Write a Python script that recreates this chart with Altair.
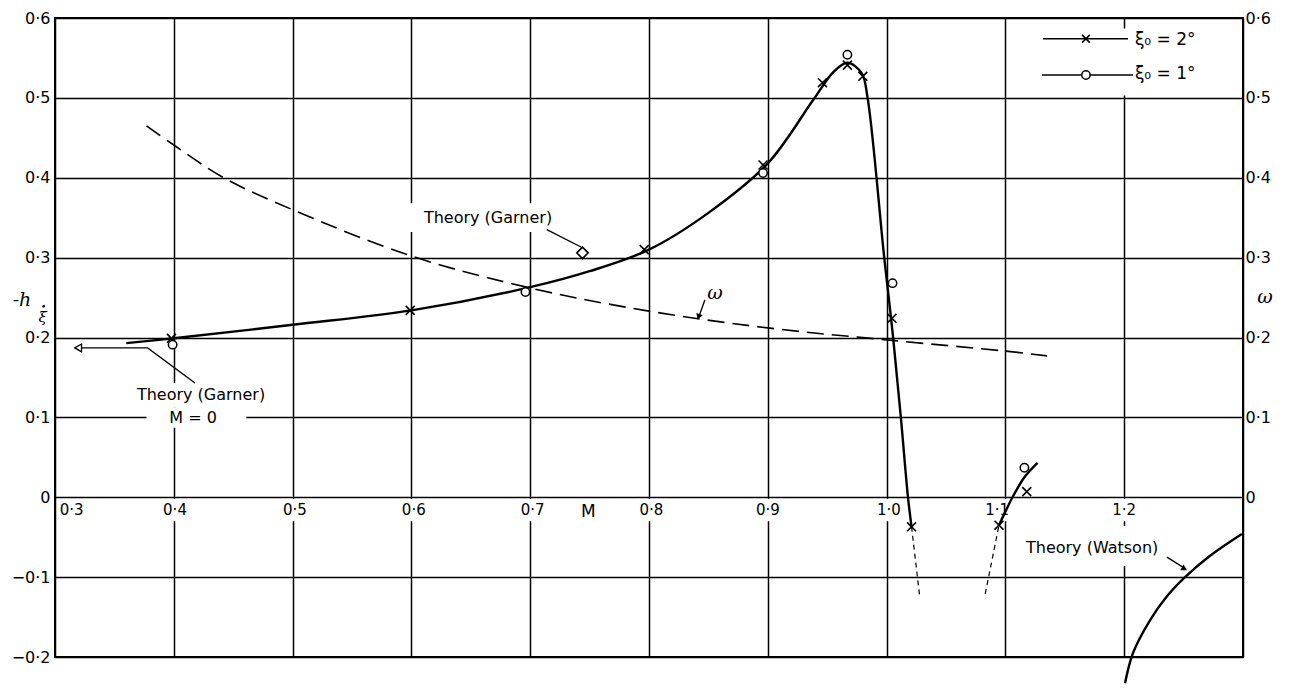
import altair as alt
import pandas as pd

FONT = "DejaVu Sans"

# ---- grid ----
x_ticks = [0.3, 0.4, 0.5, 0.6, 0.7, 0.8, 0.9, 1.0, 1.1, 1.2, 1.3]
y_ticks = [-0.2, -0.1, 0.0, 0.1, 0.2, 0.3, 0.4, 0.5, 0.6]

# x tick labels sit just under the h = 0 line
x_label_text = ["0·3", "0·4", "0·5", "0·6", "0·7", "0·8", "0·9", "1·0", "1·1", "1·2"]
x_label_pos = [0.314, 0.401, 0.502, 0.602, 0.702, 0.802, 0.900, 1.002, 1.093, 1.200]

# ---- measured points ----
# xi_0 = 2 deg (crosses)
m_2deg = [0.398, 0.599, 0.796, 0.896, 0.946, 0.967, 0.980, 1.0045, 1.021, 1.0946, 1.118]
h_2deg = [0.199, 0.234, 0.310, 0.416, 0.519, 0.541, 0.527, 0.224, -0.037, -0.035, 0.007]
# xi_0 = 1 deg (circles)
m_1deg = [0.399, 0.696, 0.896, 0.967, 1.005, 1.116]
h_1deg = [0.191, 0.257, 0.406, 0.554, 0.268, 0.037]

# ---- faired curves ----
m_fair = [0.36, 0.40, 0.50, 0.60, 0.70, 0.75, 0.80, 0.85, 0.90, 0.938,
          0.955, 0.967, 0.979, 0.984, 0.998, 1.0055, 1.012, 1.018, 1.021]
h_fair = [0.193, 0.199, 0.216, 0.234, 0.263, 0.283, 0.310, 0.356, 0.418, 0.497,
          0.532, 0.544, 0.531, 0.500, 0.300, 0.200, 0.100, 0.000, -0.037]
m_fair_ext = [1.021, 1.028]
h_fair_ext = [-0.037, -0.126]

m_super_dash = [1.083, 1.0946]
h_super_dash = [-0.121, -0.035]
m_super = [1.0946, 1.100, 1.106, 1.116, 1.127]
h_super = [-0.035, -0.018, 0.000, 0.025, 0.043]

# Theory (Watson), supersonic
m_watson = [1.2007, 1.2074, 1.2217, 1.236, 1.2512, 1.272, 1.299]
h_watson = [-0.233, -0.195, -0.154, -0.124, -0.100, -0.0736, -0.046]

# frequency parameter omega (right-hand scale)
m_omega = [0.377, 0.400, 0.442, 0.500, 0.600, 0.700, 0.800, 0.900, 1.000, 1.100, 1.135]
w_omega = [0.465, 0.441, 0.400, 0.360, 0.302, 0.262, 0.233, 0.212, 0.197, 0.183, 0.177]

# Theory (Garner) values
garner_m = [0.744]
garner_h = [0.306]
garner_m0_h = 0.187

x_scale = alt.Scale(domain=[0.3, 1.3], nice=False, zero=False)
y_scale = alt.Scale(domain=[-0.2, 0.6], nice=False, zero=False)

label_expr = "datum.value == 0 ? '0' : replace(format(datum.value, '.1f'), '.', '·')"

x_axis = alt.Axis(values=x_ticks, grid=True, gridColor="black", gridWidth=1.5, gridOpacity=1,
                  labels=False, ticks=False, domain=False, title=None)
y_axis_left = alt.Axis(values=y_ticks, grid=True, gridColor="black", gridWidth=1.5, gridOpacity=1,
                       ticks=False, domain=False, title=None, labelExpr=label_expr,
                       labelFont=FONT, labelFontSize=16, labelColor="black", labelPadding=5)
y_axis_right = alt.Axis(values=y_ticks, orient="right", grid=False, ticks=False, domain=False,
                        title=None, labelExpr="datum.value < 0 ? '' : (" + label_expr + ")",
                        labelFont=FONT, labelFontSize=16, labelColor="black", labelPadding=2)


def X(f="m"):
    return alt.X(f"{f}:Q", scale=x_scale, axis=x_axis)


def Y(f="h"):
    return alt.Y(f"{f}:Q", scale=y_scale, axis=y_axis_left)


def line(ms, hs, **kw):
    df = pd.DataFrame({"m": ms, "h": hs, "o": range(len(ms))})
    return alt.Chart(df).mark_line(color="black", **kw).encode(x=X(), y=Y(), order="o:Q")


def text(rows, font=FONT, **kw):
    df = pd.DataFrame(rows, columns=["m", "h", "t"])
    return alt.Chart(df).mark_text(font=font, color="black", **kw).encode(x=X(), y=Y(), text="t:N")


# white patches that break the grid behind lettering
gaps = pd.DataFrame(
    [(p - 0.013, p + 0.013, -0.002, -0.030) for p in x_label_pos[1:]]
    + [
        (0.354, 0.492, 0.143, 0.112),   # Theory (Garner)
        (0.377, 0.461, 0.112, 0.087),   # M = 0
        (0.598, 0.730, 0.368, 0.332),   # Theory (Garner)
        (1.110, 1.236, -0.036, -0.086), # Theory (Watson)
        (1.125, 1.297, 0.587, 0.503),   # key
    ],
    columns=["m", "m2", "h", "h2"],
)
gap_layer = alt.Chart(gaps).mark_rect(color="white").encode(
    x=X(), x2="m2:Q", y=Y(), y2="h2:Q")

x_labels = text(list(zip(x_label_pos, [-0.016] * len(x_label_pos), x_label_text)),
                fontSize=15, align="center", baseline="middle")
m_label = text([(0.749, -0.018, "M")], fontSize=17, align="center", baseline="middle")

# curves
smooth = "catmull-rom"
fair = line(m_fair, h_fair, strokeWidth=2.4, interpolate=smooth)
fair_ext = line(m_fair_ext, h_fair_ext, strokeWidth=1.2, strokeDash=[5, 4])
sup_dash = line(m_super_dash, h_super_dash, strokeWidth=1.2, strokeDash=[5, 4])
sup = line(m_super, h_super, strokeWidth=2.4, interpolate=smooth)
watson = line(m_watson, h_watson, strokeWidth=2.4, interpolate=smooth)

# leader lines
leaders = pd.DataFrame({
    "seg": [0, 0, 0, 1, 1, 2, 2, 3, 3],
    "o": [0, 1, 2, 0, 1, 0, 1, 0, 1],
    "m": [0.4178, 0.378, 0.321, 0.714, 0.7444, 1.236, 1.252, 0.847, 0.842],
    "h": [0.143, garner_m0_h, garner_m0_h, 0.335, 0.312, -0.075, -0.090, 0.247, 0.226],
})
leader_layer = alt.Chart(leaders).mark_line(color="black", strokeWidth=1.3).encode(
    x=X(), y=Y(), detail="seg:N", order="o:Q")

heads = pd.DataFrame({"m": [1.250, 0.842], "h": [-0.089, 0.227], "a": [119, 199]})
head_layer = alt.Chart(heads).mark_point(shape="triangle", filled=True, color="black",
                                         size=45, opacity=1).encode(
    x=X(), y=Y(), angle=alt.Angle("a:Q", scale=None))
m0_head = alt.Chart(pd.DataFrame({"m": [0.3195], "h": [garner_m0_h]})).mark_point(
    shape="triangle-left", filled=True, fill="white", stroke="black", strokeWidth=1.3,
    size=60, opacity=1).encode(x=X(), y=Y())

# markers
cross_path = "M-1,-1L1,1M-1,1L1,-1"
crosses = alt.Chart(pd.DataFrame({"m": m_2deg, "h": h_2deg})).mark_point(
    shape=cross_path, color="black", strokeWidth=1.6, size=80, opacity=1).encode(x=X(), y=Y())
circles = alt.Chart(pd.DataFrame({"m": m_1deg, "h": h_1deg})).mark_point(
    shape="circle", stroke="black", fill="white", filled=True, strokeWidth=1.5,
    size=70, opacity=1).encode(x=X(), y=Y())
diamond = alt.Chart(pd.DataFrame({"m": garner_m, "h": garner_h})).mark_point(
    shape="diamond", stroke="black", fill="white", filled=True, strokeWidth=1.6,
    size=130, opacity=1).encode(x=X(), y=Y())

# key
key_lines = pd.DataFrame({
    "seg": [0, 0, 1, 1],
    "m": [1.1316, 1.2032, 1.1308, 1.2074],
    "h": [0.574, 0.574, 0.5286, 0.5286],
})
key_line_layer = alt.Chart(key_lines).mark_line(color="black", strokeWidth=1.5).encode(
    x=X(), y=Y(), detail="seg:N")
key_cross = alt.Chart(pd.DataFrame({"m": [1.1678], "h": [0.574]})).mark_point(
    shape=cross_path, color="black", strokeWidth=1.6, size=60, opacity=1).encode(x=X(), y=Y())
key_circle = alt.Chart(pd.DataFrame({"m": [1.1678], "h": [0.5286]})).mark_point(
    shape="circle", stroke="black", fill="white", filled=True, strokeWidth=1.5,
    size=70, opacity=1).encode(x=X(), y=Y())
key_text = text([(1.209, 0.572, "ξ₀ = 2°"), (1.209, 0.530, "ξ₀ = 1°")],
                fontSize=17, align="left", baseline="middle")

notes = text([
    (0.6645, 0.350, "Theory (Garner)"),
    (0.4229, 0.128, "Theory  (Garner)"),
    (0.4162, 0.099, "M = 0"),
    (1.173, -0.0635, "Theory (Watson)"),
], fontSize=16, align="center", baseline="middle")

omega_tag = text([(0.8556, 0.256, "ω")], font="DejaVu Serif", fontStyle="italic",
                 fontSize=19, align="center", baseline="middle")
left_title = text([(0.2722, 0.247, "-h")], font="DejaVu Serif", fontStyle="italic",
                  fontSize=19, align="center", baseline="middle")
left_sub = text([(0.2895, 0.234, "ξ")], font="DejaVu Serif", fontStyle="italic",
                fontSize=15, align="center", baseline="top")
# time-derivative dot over the subscript
left_sub_dot = alt.Chart(pd.DataFrame({"m": [0.2905], "h": [0.239]})).mark_point(
    shape="circle", filled=True, color="black", size=7, opacity=1).encode(x=X(), y=Y())
right_title = text([(1.3185, 0.251, "ω")], font="DejaVu Serif", fontStyle="italic",
                   fontSize=19, align="center", baseline="middle")

left = alt.layer(
    gap_layer, x_labels, m_label,
    fair, fair_ext, sup_dash, sup, watson,
    leader_layer, head_layer, m0_head,
    crosses, circles, diamond,
    key_line_layer, key_cross, key_circle, key_text,
    notes, omega_tag, left_title, left_sub, left_sub_dot, right_title,
)

omega_df = pd.DataFrame({"m": m_omega, "w": w_omega, "o": range(len(m_omega))})
right = alt.Chart(omega_df).mark_line(
    color="black", strokeWidth=1.6, strokeDash=[17, 8], interpolate=smooth
).encode(
    x=X(),
    y=alt.Y("w:Q", scale=y_scale, axis=y_axis_right),
    order="o:Q",
)

chart = alt.layer(left, right).resolve_scale(y="independent").properties(
    width=1188,
    height=639,
    padding={"left": 55, "top": 18, "right": 50, "bottom": 33},
    autosize=alt.AutoSizeParams(type="none"),
    background="white",
).configure_view(stroke="black", strokeWidth=2)

chart.save("out.html", embed_options={"renderer": "svg", "actions": False})
